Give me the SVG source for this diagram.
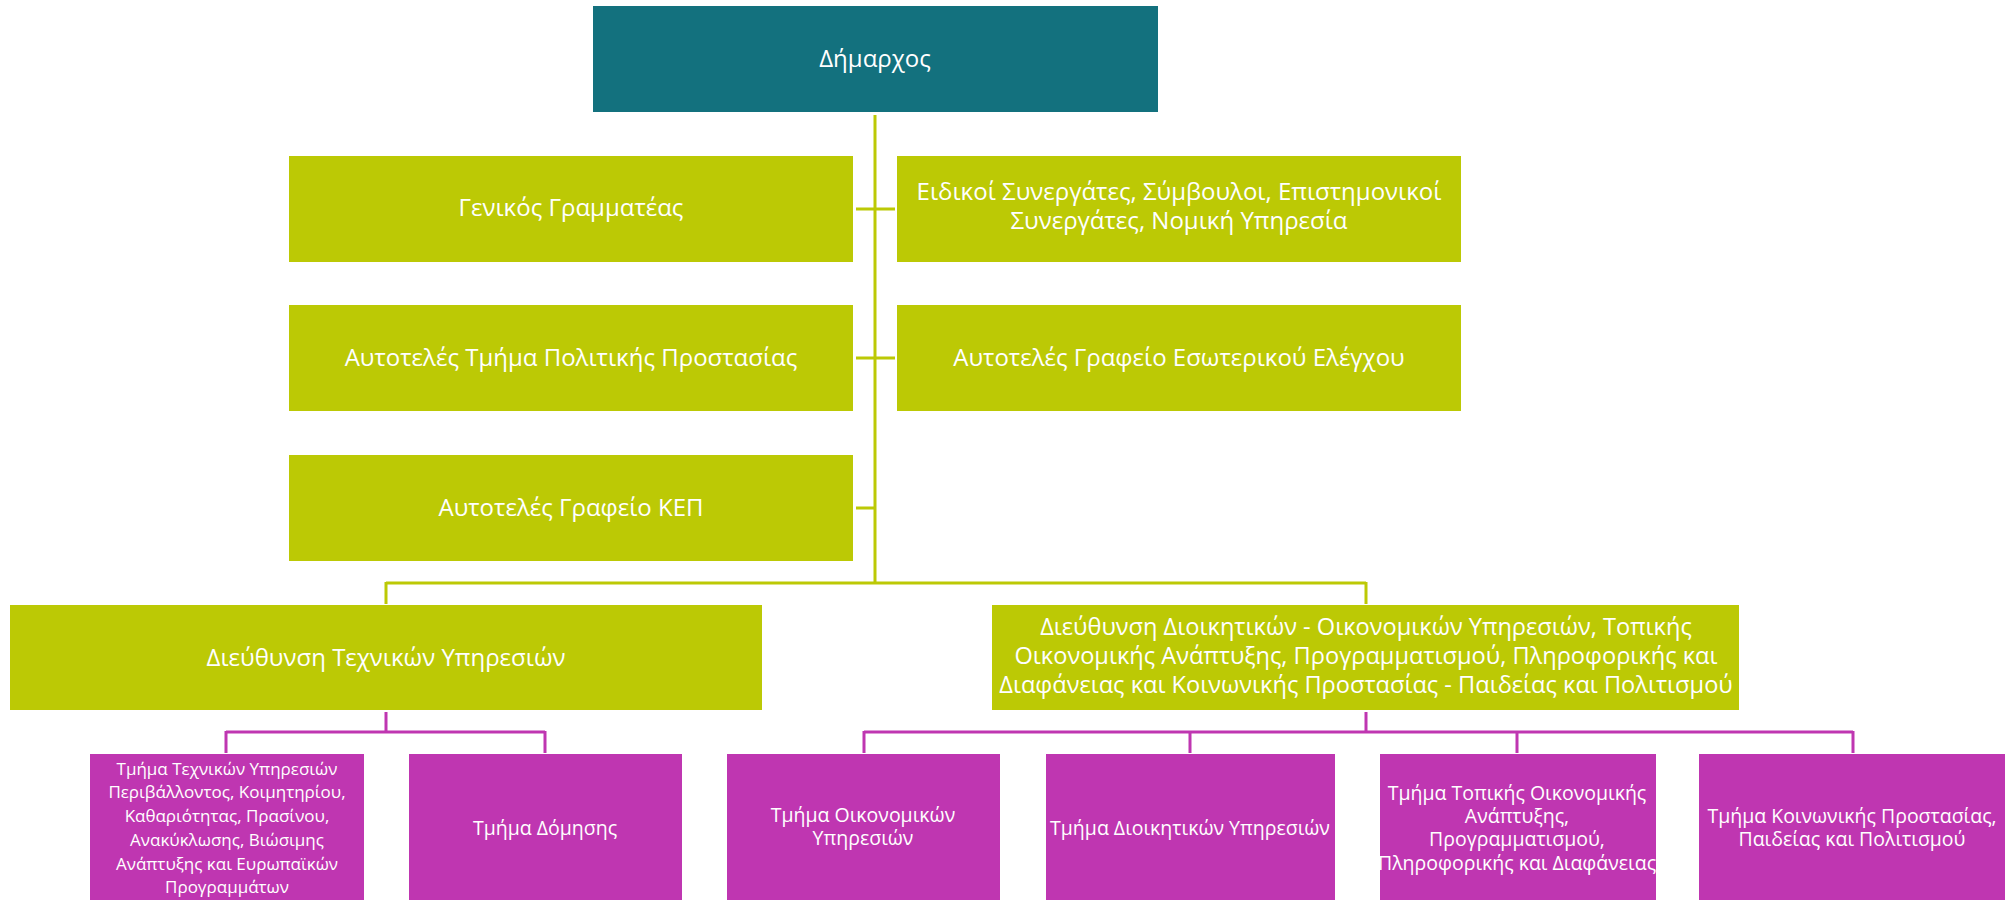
<svg xmlns="http://www.w3.org/2000/svg" width="2013" height="900" viewBox="0 0 2013 900">
<style>
.teal{fill:#13717E}
.green{fill:#BCC905}
.mag{fill:#BF36B1}
.t{font-family:"Open Sans","Noto Sans","Liberation Sans",sans-serif;fill:#fff;text-anchor:middle}
.big{font-size:24px}
.big2{font-size:23.6px}
.sm{font-size:17px}
.md{font-size:19.5px}
.gl{stroke:#BCC905;stroke-width:3;fill:none}
.ml{stroke:#BF36B1;stroke-width:3;fill:none}
</style>
<rect width="2013" height="900" fill="#fff"/>
<g id="connectors">
<path class="gl" d="M875,115 V583 M856,209 H895 M856,358 H895 M856,508 H875 M386,583 H1366 M386,582 V604 M1366,582 V604"/>
<path class="ml" d="M386,712 V732 M226,732 H545 M226,731 V753 M545,731 V753 M1366,712 V732 M864,732 H1853 M864,731 V753 M1190,731 V753 M1517,731 V753 M1853,731 V753"/>
</g>
<g id="n-dimarchos"><rect class="teal" x="593" y="6" width="565" height="106"/><text class="t big" x="875" y="67">Δήμαρχος</text></g>
<g id="n-genikos"><rect class="green" x="289" y="156" width="564" height="106"/><text class="t big" x="571" y="216">Γενικός Γραμματέας</text></g>
<g id="n-eidikoi"><rect class="green" x="897" y="156" width="564" height="106"/><text class="t big" x="1179" y="200">Ειδικοί Συνεργάτες, Σύμβουλοι, Επιστημονικοί</text><text class="t big" x="1179" y="229">Συνεργάτες, Νομική Υπηρεσία</text></g>
<g id="n-politiki"><rect class="green" x="289" y="305" width="564" height="106"/><text class="t big" x="571" y="366">Αυτοτελές Τμήμα Πολιτικής Προστασίας</text></g>
<g id="n-eleghos"><rect class="green" x="897" y="305" width="564" height="106"/><text class="t big" x="1179" y="366">Αυτοτελές Γραφείο Εσωτερικού Ελέγχου</text></g>
<g id="n-kep"><rect class="green" x="289" y="455" width="564" height="106"/><text class="t big" x="571" y="516">Αυτοτελές Γραφείο ΚΕΠ</text></g>
<g id="n-texnikon"><rect class="green" x="10" y="605" width="752" height="105"/><text class="t big" x="386" y="666">Διεύθυνση Τεχνικών Υπηρεσιών</text></g>
<g id="n-dioikitikon"><rect class="green" x="992" y="605" width="747" height="105"/><text class="t big2" x="1366" y="635">Διεύθυνση Διοικητικών - Οικονομικών Υπηρεσιών, Τοπικής</text><text class="t big2" x="1366" y="664">Οικονομικής Ανάπτυξης, Προγραμματισμού, Πληροφορικής και</text><text class="t big2" x="1366" y="693">Διαφάνειας και Κοινωνικής Προστασίας - Παιδείας και Πολιτισμού</text></g>
<g id="n-tm-texnikon"><rect class="mag" x="90" y="754" width="274" height="146"/><text class="t sm" x="227"><tspan x="227" y="775">Τμήμα Τεχνικών Υπηρεσιών</tspan><tspan x="227" y="798">Περιβάλλοντος, Κοιμητηρίου,</tspan><tspan x="227" y="822">Καθαριότητας, Πρασίνου,</tspan><tspan x="227" y="846">Ανακύκλωσης, Βιώσιμης</tspan><tspan x="227" y="870">Ανάπτυξης και Ευρωπαϊκών</tspan><tspan x="227" y="893">Προγραμμάτων</tspan></text></g>
<g id="n-domisis"><rect class="mag" x="409" y="754" width="273" height="146"/><text class="t md" x="545" y="835">Τμήμα Δόμησης</text></g>
<g id="n-oikonomikon"><rect class="mag" x="727" y="754" width="273" height="146"/><text class="t md" x="863" y="822">Τμήμα Οικονομικών</text><text class="t md" x="863" y="845">Υπηρεσιών</text></g>
<g id="n-dioik"><rect class="mag" x="1046" y="754" width="289" height="146"/><text class="t md" x="1190" y="835">Τμήμα Διοικητικών Υπηρεσιών</text></g>
<g id="n-topikis"><rect class="mag" x="1380" y="754" width="276" height="146"/><text class="t md" x="1517" y="800">Τμήμα Τοπικής Οικονομικής</text><text class="t md" x="1517" y="823">Ανάπτυξης,</text><text class="t md" x="1517" y="846">Προγραμματισμού,</text><text class="t md" x="1517" y="870">Πληροφορικής και Διαφάνειας</text></g>
<g id="n-koinonikis"><rect class="mag" x="1699" y="754" width="306" height="146"/><text class="t md" x="1852" y="823">Τμήμα Κοινωνικής Προστασίας,</text><text class="t md" x="1852" y="846">Παιδείας και Πολιτισμού</text></g>
</svg>
